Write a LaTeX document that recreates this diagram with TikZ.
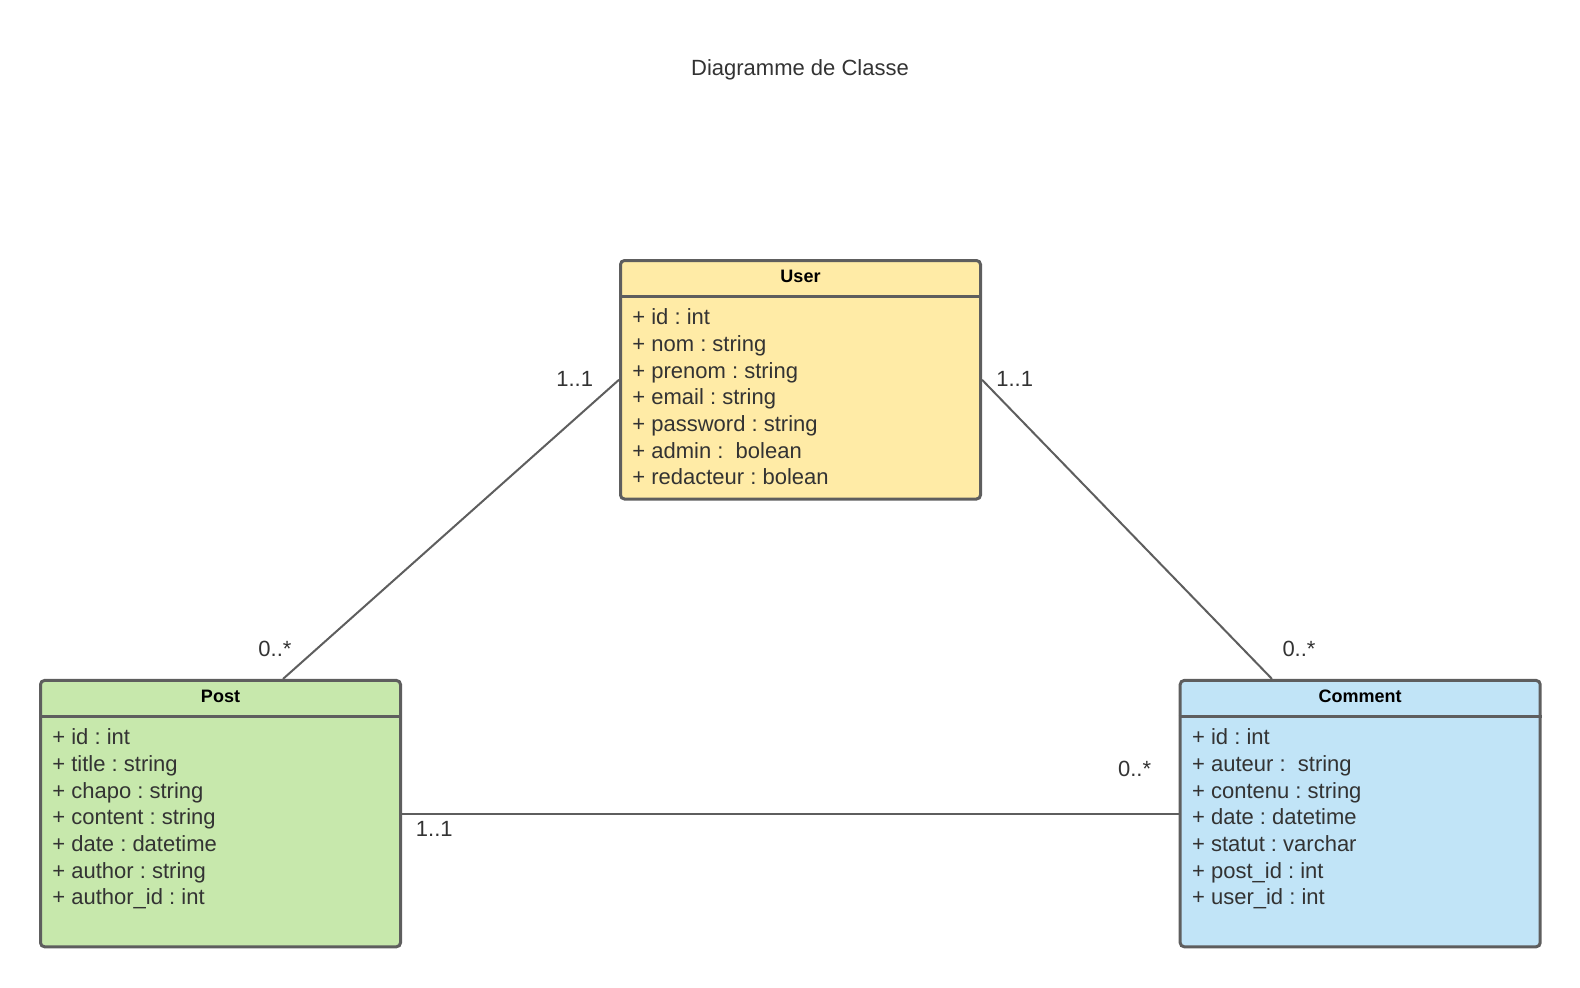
\documentclass[tikz,border=0pt]{standalone}
\usepackage{fontspec}
\setmainfont{Liberation Sans}
\usetikzlibrary{calc}
\definecolor{edgegray}{HTML}{5E5E5E}
\definecolor{textgray}{HTML}{333333}
\definecolor{userfill}{HTML}{FFEBA6}
\definecolor{postfill}{HTML}{C7E8AC}
\definecolor{commentfill}{HTML}{C1E4F7}
\frenchspacing
\begin{document}
\begin{tikzpicture}[x=0.5pt,y=-0.5pt,
  classbox/.style={draw=edgegray, line width=1.5pt, rounded corners=2pt,
    minimum width=180pt, inner sep=0pt},
  classname/.style={font=\fontsize{9}{11}\selectfont\bfseries, text=black,
    inner sep=0pt, anchor=base},
  attr/.style={font=\fontsize{11}{13}\selectfont, text=textgray,
    inner sep=0pt, anchor=base west},
  mult/.style={font=\fontsize{11}{13}\selectfont, text=textgray,
    inner sep=0pt, anchor=base},
  assoc/.style={draw=edgegray, line width=1pt},
  sepline/.style={draw=edgegray, line width=1.5pt}]
\useasboundingbox (0,0) rectangle (1580,987);

% title
\node[mult] (title) at (800,75) {Diagramme de Classe};

% class boxes
\node[classbox, fill=userfill, minimum height=119.25pt] (user) at (800.5,379.75) {};
\node[classbox, fill=postfill, minimum height=133.15pt] (post) at (220.5,813.6) {};
\node[classbox, fill=commentfill, minimum height=133.15pt] (comment) at (1360.2,813.6) {};

% associations
\draw[assoc] (user.west) -- ([xshift=31.25pt]post.north);
\draw[assoc] (user.east) -- ([xshift=-44.1pt]comment.north);
\draw[assoc] (post.east) -- (comment.west);

% header separators
\foreach \c in {user,post,comment}
  \draw[sepline] ([yshift=-18.65pt]\c.north west) -- ([yshift=-18.65pt]\c.north east);

% class names
\node[classname] (userT) at ([yshift=-11.9pt]user.north) {User};
\node[classname] (postT) at ([yshift=-11.9pt]post.north) {Post};
\node[classname] (commentT) at ([yshift=-11.9pt]comment.north) {Comment};

% attributes
\foreach \t [count=\i, evaluate=\i as \dy using -32.9-13.333*(\i-1)] in
  {+ id : int, + nom : string, + prenom : string, + email : string,
   + password : string, + admin : \ bolean, + redacteur : bolean}
  \node[attr] (ua\i) at ([xshift=6.5pt, yshift=\dy pt]user.north west) {\t};

\foreach \t [count=\i, evaluate=\i as \dy using -32.9-13.333*(\i-1)] in
  {+ id : int, + title : string, + chapo : string, + content : string,
   + date : datetime, + author : string, + author\_id : int}
  \node[attr] (pa\i) at ([xshift=6.5pt, yshift=\dy pt]post.north west) {\t};

\foreach \t [count=\i, evaluate=\i as \dy using -32.9-13.333*(\i-1)] in
  {+ id : int, + auteur : \ string, + contenu : string, + date : datetime,
   + statut : varchar, + post\_id : int, + user\_id : int}
  \node[attr] (ca\i) at ([xshift=6.5pt, yshift=\dy pt]comment.north west) {\t};

% multiplicities
\node[mult] (m1) at (574.7,386.5) {1..1};
\node[mult] (m2) at (275,656) {0..*};
\node[mult] (m3) at (1014.7,386.5) {1..1};
\node[mult] (m4) at (1299,656) {0..*};
\node[mult] (m5) at (1134.6,776) {0..*};
\node[mult] (m6) at (434.3,836.3) {1..1};
\end{tikzpicture}
\end{document}
